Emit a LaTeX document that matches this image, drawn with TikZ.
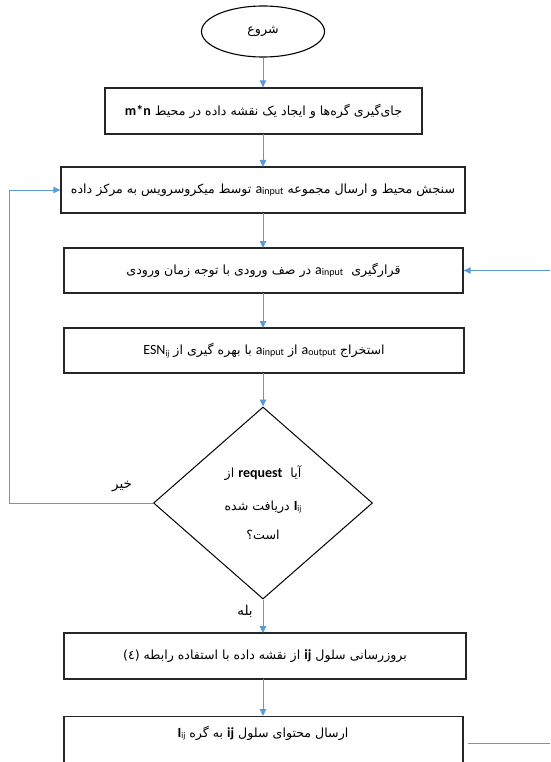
\documentclass[tikz,border=0pt]{standalone}
\usepackage{fontspec}
\setmainfont{Carlito}
\newfontfamily\fa[Script=Arabic]{DejaVu Sans}
\TeXXeTstate=1
\usetikzlibrary{shapes.geometric,arrows.meta}
\definecolor{arrowblue}{HTML}{5B9BD5}
\newcommand\farsi{\fa\fontsize{12.6}{14}\selectfont}
\newcommand\lat[1]{\beginL{\normalfont\fontsize{14}{16}\selectfont #1}\endL}
\newcommand\ainp{\lat{a\raisebox{-0.8pt}{\fontsize{10}{11}\selectfont input}}}
\newcommand\aoutp{\lat{a\raisebox{-0.8pt}{\fontsize{10}{11}\selectfont output}}}
\newcommand\Iij{\lat{\textbf{I}\raisebox{-1.8pt}{\fontsize{8.5}{9}\selectfont ij}}}
\begin{document}
\begin{tikzpicture}[x=1pt,y=-1pt,
  box/.style={draw=black!85,line width=1.3pt,inner sep=0pt,minimum height=46pt,font=\farsi},
  conn/.style={draw=arrowblue,line width=0.9pt,-{Triangle[length=7pt,width=6.5pt]}},
  plain/.style={draw=arrowblue,line width=0.9pt},
  lbl/.style={font=\farsi,inner sep=0pt}]
\useasboundingbox (0,0) rectangle (550,762);
\clip (0,0) rectangle (550,762);
\node[draw,line width=1.1pt,ellipse,minimum width=123pt,minimum height=51pt,inner sep=0pt,font=\farsi] (start) at (263,31.5) {\beginR شروع\endR};
\node[box,minimum width=317pt] (b1) at (263.5,111) {\beginR جای‌گیری گره‌ها و ایجاد یک نقشه داده در محیط \lat{\textbf{m*n}}\endR};
\node[box,minimum width=404pt] (b2) at (263,190) {\beginR سنجش محیط و ارسال مجموعه \ainp{} توسط میکروسرویس به مرکز داده\endR};
\node[box,minimum width=399pt,minimum height=45pt] (b3) at (263.5,270.5) {\beginR قرارگیری\ \ \ainp{} در صف ورودی با توجه زمان ورودی\endR};
\node[box,minimum width=400pt,minimum height=45pt] (b4) at (264,350.5) {\raisebox{3pt}{\beginR استخراج \aoutp{} از \ainp{} با بهره گیری از \lat{ESN\raisebox{-1.8pt}{\fontsize{8.5}{9}\selectfont ij}}\endR}};
\node[draw=black,line width=1pt,diamond,minimum width=219pt,minimum height=192pt,inner sep=0pt] (dec) at (263,503) {};
\node[lbl] (d1) at (263,473) {\beginR آیا\ \ \lat{\textbf{request}} از\endR};
\node[lbl] (d2) at (263,507) {\beginR \Iij{} دریافت شده\endR};
\node[lbl] (d3) at (263,535) {\beginR است؟\endR};
\node[box,minimum width=402pt] (b5) at (265,656) {\raisebox{3pt}{\beginR بروزرسانی سلول \lat{\textbf{ij}} از نقشه داده با استفاده رابطه (٤)\endR}};
\node[box,minimum width=399pt,minimum height=60pt,anchor=north] (b6) at (263.5,716) {};
\node[lbl] (b6t) at (263,733) {\beginR ارسال محتوای سلول \lat{\textbf{ij}} به گره \Iij\endR};
\node[lbl,font=\fa\fontsize{13.5}{15}\selectfont] (no) at (122,487) {\beginR خیر\endR};
\node[lbl,font=\fa\fontsize{13.5}{15}\selectfont] (yes) at (245,611) {\beginR بله\endR};
\coordinate (inR) at (550,270.5);
\coordinate (outR) at (550,743);
\coordinate (loopC) at (9,503);
\draw[conn] (start.south) -- (start.south |- b1.north);
\draw[conn] (263,134) -- (263,167);
\draw[conn] (263,213) -- (263,248);
\draw[conn] (263,293) -- (263,328);
\draw[conn] (263,373) -- (dec.north);
\draw[conn] (dec.south) -- (263,633);
\draw[conn] (263,679) -- (263,716);
\draw[conn] (dec.west) -- (loopC) |- (b2.west);
\draw[conn] (inR) -- (b3.east);
\draw[plain] (b6.east |- outR) ++(4,0) -- (outR);
\end{tikzpicture}
\end{document}
